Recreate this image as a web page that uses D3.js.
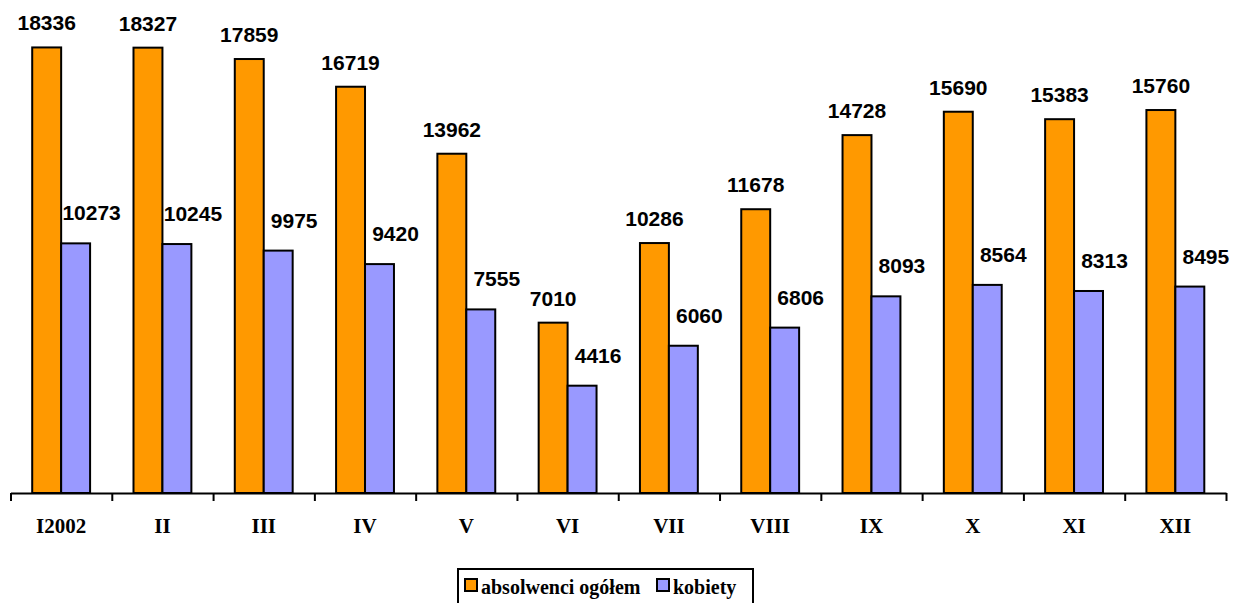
<!DOCTYPE html>
<html>
<head>
<meta charset="utf-8">
<script src="https://cdn.jsdelivr.net/npm/d3@7"></script>
<style>
  html, body { margin: 0; padding: 0; background: #fff; }
  svg { display: block; }
</style>
</head>
<body>
<div id="chart"></div>
<script>
const months = ["I2002", "II", "III", "IV", "V", "VI", "VII", "VIII", "IX", "X", "XI", "XII"];
const absolwenci = [18336, 18327, 17859, 16719, 13962, 7010, 10286, 11678, 14728, 15690, 15383, 15760];
const kobiety = [10273, 10245, 9975, 9420, 7555, 4416, 6060, 6806, 8093, 8564, 8313, 8495];
const seriesNames = ["absolwenci ogółem", "kobiety"];
const seriesColors = ["#FF9900", "#9999FF"];

const width = 1234, height = 603;
const plot = {left: 10.5, right: 1226, baseline: 493, top: 7};

const svg = d3.select("#chart").append("svg")
    .attr("width", width)
    .attr("height", height);

const rows = months.map((m, i) => ({month: m, values: [absolwenci[i], kobiety[i]]}));

const x = d3.scaleBand()
    .domain(months)
    .range([plot.left, plot.right])
    .padding(0);
const xSub = d3.scaleBand()
    .domain([0, 1])
    .range([0, x.bandwidth()])
    .paddingInner(0)
    .paddingOuter(0.75);
const y = d3.scaleLinear()
    .domain([0, 20000])
    .range([plot.baseline, plot.top]);

// bars
const groups = svg.selectAll("g.month")
    .data(rows)
    .enter()
    .append("g")
        .attr("class", "month")
        .attr("transform", d => `translate(${x(d.month)},0)`);

groups.selectAll("rect")
    .data(d => d.values.map((v, k) => ({k, v})))
    .enter()
    .append("rect")
        .attr("x", d => xSub(d.k))
        .attr("y", d => y(d.v))
        .attr("width", xSub.bandwidth())
        .attr("height", d => y(0) - y(d.v))
        .attr("fill", d => seriesColors[d.k])
        .attr("stroke", "#000")
        .attr("stroke-width", 2);

// value labels
groups.selectAll("text.val")
    .data(d => d.values.map((v, k) => ({k, v})))
    .enter()
    .append("text")
        .attr("class", "val")
        .attr("x", d => xSub(d.k) + xSub.bandwidth() / 2 + (d.k === 1 ? 16 : 0))
        .attr("y", d => y(d.v) - (d.k === 1 ? 23 : 17))
        .attr("text-anchor", "middle")
        .attr("font-family", "'Liberation Sans', Arial, sans-serif")
        .attr("font-weight", "bold")
        .attr("font-size", "21px")
        .attr("fill", "#000")
        .text(d => d.v);

// x axis with ticks between categories
const tickPos = d3.scaleLinear().domain([0, months.length]).range([plot.left, plot.right]);
const axis = svg.append("g")
    .attr("transform", `translate(0,${plot.baseline})`)
    .call(d3.axisBottom(tickPos)
        .tickValues(d3.range(months.length + 1))
        .tickSize(8)
        .tickSizeOuter(0)
        .tickFormat(""));
axis.select(".domain").attr("stroke", "#000").attr("stroke-width", 2);
axis.selectAll(".tick line").attr("stroke", "#000").attr("stroke-width", 2);

svg.append("g")
    .selectAll("text")
    .data(months)
    .enter()
    .append("text")
        .attr("x", d => x(d) + x.bandwidth() / 2)
        .attr("y", 533)
        .attr("text-anchor", "middle")
        .attr("font-family", "'Liberation Serif', 'Times New Roman', serif")
        .attr("font-weight", "bold")
        .attr("font-size", "21px")
        .text(d => d);

// legend
const legend = svg.append("g");
legend.append("rect")
    .attr("x", 458)
    .attr("y", 569)
    .attr("width", 295)
    .attr("height", 45)
    .attr("fill", "#fff")
    .attr("stroke", "#000")
    .attr("stroke-width", 2);

const legendX = [465, 657];
seriesNames.forEach((name, i) => {
    legend.append("rect")
        .attr("x", legendX[i])
        .attr("y", 579)
        .attr("width", 12)
        .attr("height", 12)
        .attr("fill", seriesColors[i])
        .attr("stroke", "#000")
        .attr("stroke-width", 2);
    legend.append("text")
        .attr("x", legendX[i] + 16)
        .attr("y", 594)
        .attr("font-family", "'Liberation Serif', 'Times New Roman', serif")
        .attr("font-weight", "bold")
        .attr("font-size", "20px")
        .text(name);
});
</script>
</body>
</html>
